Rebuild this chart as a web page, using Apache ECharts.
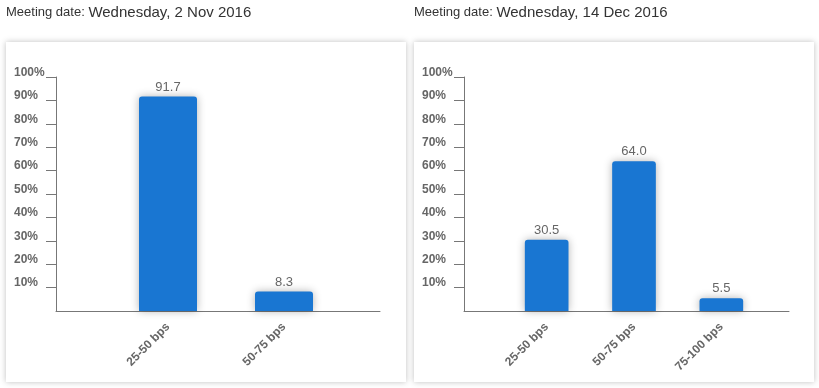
<!DOCTYPE html>
<html>
<head>
<meta charset="utf-8">
<script src="https://cdn.jsdelivr.net/npm/echarts@6/dist/echarts.min.js"></script>
<style>
  html, body { margin: 0; padding: 0; background: #fff; }
  #chart { width: 819px; height: 388px; }
</style>
</head>
<body>
<div id="chart"></div>
<script>
// meeting dates
const meetingDates = ['Wednesday, 2 Nov 2016', 'Wednesday, 14 Dec 2016'];

// probability by target range, %
const novCategories = ['25-50 bps', '50-75 bps'];
const novValues = [91.7, 8.3];

const decCategories = ['25-50 bps', '50-75 bps', '75-100 bps'];
const decValues = [30.5, 64.0, 5.5];

const yTicks = [10, 20, 30, 40, 50, 60, 70, 80, 90, 100];

const FONT = '"Liberation Sans", Arial, sans-serif';
const BLUE = '#1976d2';
const AXIS = '#777';
const LABEL = '#666';

const chart = echarts.init(document.getElementById('chart'));

// one panel = card + axis frame grid + bar grid
const panels = [
    { x: 6, axisLeft: 56, axisWidth: 324, barLeft: 110, barWidth: 232, cats: novCategories, vals: novValues, date: meetingDates[0] },
    { x: 414, axisLeft: 464, axisWidth: 325, barLeft: 503, barWidth: 262, cats: decCategories, vals: decValues, date: meetingDates[1] }
];

const grids = [], xAxes = [], yAxes = [], series = [], titles = [], cards = [];

panels.forEach(function (p, i) {
    const frameIdx = grids.length;
    grids.push({ left: p.axisLeft, top: 77, width: p.axisWidth, height: 234 });
    const barIdx = grids.length;
    grids.push({ left: p.barLeft, top: 77, width: p.barWidth, height: 234 });

    // frame axes (lines, ticks, % labels)
    xAxes.push({
        gridIndex: frameIdx, type: 'value', min: 0, max: 1,
        axisLine: { show: true, lineStyle: { color: AXIS, width: 1 } },
        axisTick: { show: false }, axisLabel: { show: false }, splitLine: { show: false }
    });
    yAxes.push({
        gridIndex: frameIdx, type: 'value', min: 0, max: 100, interval: 10,
        axisLine: { show: true, lineStyle: { color: AXIS, width: 1 } },
        axisTick: { show: true, length: 10, customValues: yTicks, lineStyle: { color: AXIS } },
        axisLabel: {
            customValues: yTicks,
            formatter: '{value}%',
            align: 'left', verticalAlign: 'bottom', lineHeight: 9,
            margin: 42,
            color: LABEL, fontWeight: 'bold', fontSize: 12, fontFamily: FONT
        },
        splitLine: { show: false }
    });

    // bar axes
    xAxes.push({
        gridIndex: barIdx, type: 'category', data: p.cats,
        axisLine: { show: false }, axisTick: { show: false },
        axisLabel: {
            rotate: 45, margin: 14, interval: 0,
            color: LABEL, fontWeight: 'bold', fontSize: 12, fontFamily: FONT
        }
    });
    yAxes.push({
        gridIndex: barIdx, type: 'value', min: 0, max: 100, show: false
    });

    series.push({
        type: 'bar',
        xAxisIndex: xAxes.length - 1,
        yAxisIndex: yAxes.length - 1,
        data: p.vals,
        barWidth: '50%',
        z: 5,
        itemStyle: {
            color: BLUE,
            borderRadius: [3, 3, 0, 0],
            shadowBlur: 8,
            shadowColor: 'rgba(0,0,0,0.3)'
        },
        label: {
            show: true, position: 'top', distance: 3,
            formatter: function (d) { return d.value.toFixed(1); },
            color: LABEL, fontSize: 13, fontFamily: FONT
        }
    });

    titles.push({
        left: p.x, top: 5, padding: 0,
        text: '{a|Meeting date: }{b|' + p.date + '}',
        textStyle: {
            fontWeight: 'normal',
            rich: {
                a: { fontSize: 13, color: '#333', fontWeight: 'normal', fontFamily: FONT },
                b: { fontSize: 15, color: '#333', fontWeight: 'normal', fontFamily: FONT }
            }
        }
    });

    cards.push({
        type: 'rect', z: -10,
        shape: { x: p.x, y: 42, width: 400, height: 340 },
        style: { fill: '#fff', shadowBlur: 6, shadowColor: 'rgba(0,0,0,0.25)' }
    });
});

chart.setOption({
    animation: false,
    title: titles,
    graphic: { elements: cards },
    grid: grids,
    xAxis: xAxes,
    yAxis: yAxes,
    series: series
});
</script>
</body>
</html>
